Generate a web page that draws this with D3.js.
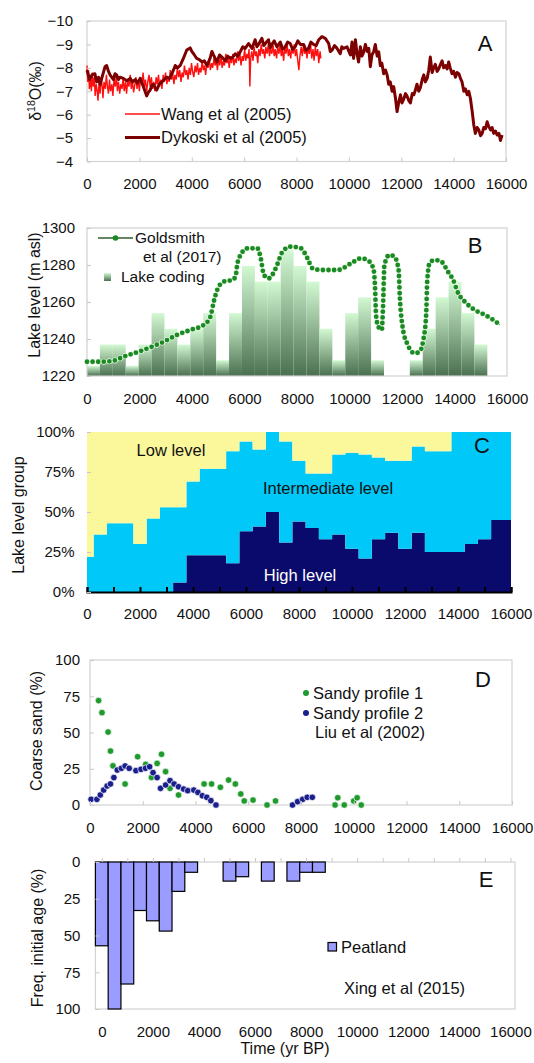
<!DOCTYPE html>
<html>
<head>
<meta charset="utf-8">
<script src="https://cdn.jsdelivr.net/npm/d3@7"></script>
<style>
    body { margin: 0; background: #fff; }
    text { font-family: "Liberation Sans", Arial, sans-serif; fill: #111; }
</style>
</head>
<body>
<svg id="fig" width="534" height="1063"></svg>
<script>
// ---------- data ----------
const timeTicks = [0, 2000, 4000, 6000, 8000, 10000, 12000, 14000, 16000];

// A: speleothem d18O, [yr BP, permil]
const wang = [[0,-8.1],[30,-7.4],[60,-7.9],[90,-7.1],[130,-7.5],[170,-7.0],[200,-7.8],[240,-7.2],[280,-7.6],[310,-6.8],[350,-7.3],[390,-7.0],[420,-6.6],[460,-7.4],[500,-6.9],[540,-7.6],[580,-7.2],[610,-6.7],[650,-7.4],[700,-7.1],[740,-7.7],[780,-7.2],[820,-6.9],[860,-7.5],[900,-7.0],[950,-7.3],[990,-6.8],[1030,-7.5],[1080,-7.2],[1120,-7.7],[1160,-7.0],[1200,-7.4],[1250,-6.9],[1290,-7.3],[1340,-7.1],[1380,-7.6],[1420,-7.0],[1470,-7.4],[1510,-6.9],[1560,-7.5],[1600,-7.2],[1650,-7.7],[1690,-7.1],[1740,-7.4],[1780,-6.95],[1830,-7.3],[1870,-7.6],[1910,-7.1],[1960,-7.5],[2000,-7.0],[2050,-7.6],[2100,-7.3],[2140,-7.8],[2190,-7.2],[2230,-7.5],[2280,-7.0],[2320,-7.4],[2370,-7.7],[2410,-7.2],[2460,-7.6],[2500,-7.1],[2550,-7.4],[2590,-7.0],[2640,-7.6],[2680,-7.3],[2730,-7.7],[2770,-7.2],[2820,-7.5],[2860,-7.1],[2910,-7.7],[2950,-7.4],[3000,-7.8],[3050,-7.3],[3090,-7.6],[3140,-7.4],[3180,-7.9],[3230,-7.5],[3270,-7.8],[3320,-7.3],[3360,-7.7],[3410,-7.5],[3450,-8.0],[3500,-7.6],[3540,-7.9],[3590,-7.4],[3630,-7.8],[3680,-7.6],[3720,-8.1],[3770,-7.7],[3810,-7.9],[3860,-7.5],[3900,-8.0],[3950,-7.7],[3990,-8.2],[4040,-7.8],[4080,-7.6],[4130,-8.1],[4170,-7.8],[4220,-8.2],[4260,-7.7],[4310,-8.0],[4350,-7.8],[4400,-8.3],[4440,-7.9],[4490,-8.1],[4530,-7.7],[4580,-8.2],[4620,-8.0],[4670,-8.4],[4710,-7.9],[4760,-8.2],[4800,-8.0],[4850,-8.4],[4890,-8.1],[4940,-8.3],[4980,-7.9],[5030,-8.4],[5070,-8.1],[5120,-8.5],[5160,-8.0],[5210,-8.3],[5250,-8.1],[5300,-8.6],[5340,-8.2],[5390,-8.4],[5430,-8.0],[5480,-8.5],[5520,-8.2],[5570,-8.6],[5610,-8.1],[5660,-8.4],[5700,-8.2],[5750,-8.7],[5790,-8.3],[5840,-8.6],[5880,-8.1],[5930,-8.5],[5970,-8.3],[6020,-8.8],[6060,-8.3],[6110,-8.6],[6150,-8.4],[6190,-8.8],[6220,-7.2],[6250,-8.4],[6290,-8.7],[6340,-8.3],[6380,-8.9],[6430,-8.5],[6470,-8.7],[6520,-8.2],[6560,-8.8],[6610,-8.5],[6650,-9.0],[6700,-8.6],[6740,-8.8],[6790,-8.4],[6830,-8.9],[6880,-8.6],[6920,-9.0],[6970,-8.5],[7010,-8.8],[7060,-8.6],[7100,-9.0],[7150,-8.5],[7190,-8.8],[7240,-8.4],[7280,-8.9],[7330,-8.6],[7370,-9.0],[7420,-8.5],[7460,-8.8],[7510,-8.3],[7550,-8.9],[7600,-8.6],[7640,-9.0],[7690,-8.5],[7730,-8.8],[7780,-8.4],[7820,-8.9],[7870,-8.6],[7910,-9.0],[7960,-8.5],[8000,-8.8],[8050,-8.3],[8090,-7.9],[8130,-8.5],[8180,-8.9],[8220,-8.5],[8270,-9.0],[8310,-8.6],[8360,-8.8],[8400,-8.4],[8450,-8.9],[8490,-8.6],[8540,-9.0],[8580,-8.4],[8630,-8.8],[8670,-8.3],[8720,-8.9],[8760,-8.5],[8810,-8.8],[8850,-8.2],[8900,-8.7],[8930,-8.4]];
const dykoski = [[0,-7.9],[100,-7.5],[190,-7.7],[300,-7.75],[370,-7.4],[440,-7.6],[500,-7.3],[600,-7.7],[690,-8.05],[750,-8.1],[820,-7.85],[880,-7.7],[1010,-7.5],[1070,-7.75],[1130,-7.7],[1200,-7.5],[1260,-7.6],[1390,-7.55],[1520,-7.45],[1650,-7.55],[1740,-7.4],[1840,-7.5],[1930,-7.35],[2030,-7.55],[2150,-7.2],[2280,-6.8],[2340,-6.95],[2410,-7.05],[2480,-7.25],[2540,-7.3],[2600,-7.15],[2660,-7.05],[2760,-7.3],[2860,-7.4],[2950,-7.5],[3050,-7.6],[3150,-7.55],[3240,-7.75],[3300,-7.9],[3370,-8.1],[3460,-8.0],[3560,-8.1],[3680,-8.4],[3810,-8.76],[3940,-8.85],[4000,-8.7],[4070,-8.6],[4190,-8.4],[4290,-8.35],[4390,-8.25],[4480,-8.3],[4580,-8.1],[4700,-8.4],[4770,-8.7],[4830,-8.55],[4960,-8.25],[5060,-8.55],[5150,-8.46],[5280,-8.3],[5370,-8.5],[5470,-8.4],[5560,-8.45],[5660,-8.6],[5750,-8.5],[5850,-8.68],[5950,-8.9],[6040,-8.83],[6170,-9.04],[6300,-8.83],[6420,-9.2],[6490,-8.9],[6550,-9.0],[6680,-9.26],[6750,-8.95],[6810,-9.04],[6930,-9.2],[7000,-8.85],[7060,-9.0],[7150,-9.15],[7250,-8.9],[7380,-9.1],[7470,-8.8],[7570,-8.9],[7660,-9.1],[7760,-9.04],[7850,-8.8],[7950,-8.9],[8050,-9.15],[8150,-9.0],[8270,-9.0],[8360,-8.75],[8460,-8.83],[8550,-9.1],[8650,-9.0],[8750,-8.95],[8850,-9.2],[8970,-9.33],[9100,-9.26],[9230,-9.04],[9290,-8.7],[9360,-8.76],[9450,-8.95],[9550,-8.83],[9670,-8.6],[9730,-8.9],[9800,-8.83],[9930,-8.9],[10000,-8.7],[10060,-8.55],[10120,-9.1],[10180,-8.4],[10250,-9.2],[10310,-8.6],[10370,-8.25],[10440,-8.9],[10500,-8.5],[10570,-8.68],[10630,-9.0],[10700,-8.7],[10760,-8.83],[10820,-8.05],[10880,-8.55],[10950,-8.7],[11010,-9.0],[11080,-8.5],[11140,-8.68],[11200,-8.1],[11260,-8.2],[11330,-7.75],[11400,-7.9],[11460,-7.7],[11520,-7.3],[11580,-7.4],[11650,-7.0],[11710,-7.2],[11780,-6.7],[11840,-6.13],[11900,-6.5],[11970,-6.85],[12030,-6.5],[12090,-6.65],[12160,-6.9],[12220,-6.8],[12290,-6.6],[12350,-6.5],[12420,-6.9],[12480,-6.85],[12540,-7.05],[12600,-7.3],[12670,-7.0],[12730,-7.15],[12800,-7.5],[12860,-7.7],[12920,-7.4],[12990,-7.55],[13050,-7.9],[13110,-8.46],[13180,-7.8],[13240,-8.0],[13300,-8.15],[13370,-7.85],[13430,-7.95],[13500,-8.15],[13560,-8.3],[13620,-8.0],[13690,-8.1],[13750,-7.95],[13810,-8.25],[13870,-8.0],[13940,-7.75],[14000,-7.85],[14070,-7.6],[14130,-7.8],[14200,-7.75],[14260,-7.55],[14320,-7.4],[14390,-7.0],[14450,-7.1],[14520,-6.85],[14580,-7.0],[14640,-6.7],[14710,-6.13],[14770,-5.56],[14830,-5.2],[14900,-5.45],[14960,-5.35],[15030,-5.1],[15090,-5.2],[15150,-5.45],[15220,-5.4],[15280,-5.7],[15340,-5.5],[15410,-5.35],[15470,-5.45],[15530,-5.2],[15600,-5.3],[15660,-5.13],[15730,-5.2],[15790,-4.9],[15850,-5.13]];
const d18oTicks = [-10, -9, -8, -7, -6, -5, -4];

// B: Goldsmith et al lake level curve and lake coding bars
const goldsmith = [[0,1227.7],[500,1227.7],[1000,1228.2],[1390,1230.4],[1960,1233.1],[2410,1235.5],[2920,1238.5],[3430,1242.2],[3940,1244.9],[4450,1247.6],[4700,1252],[4830,1260.2],[4960,1266.5],[5210,1271],[5530,1271.9],[5660,1273.7],[5720,1280],[5850,1285.4],[6110,1289],[6490,1289],[6620,1283.6],[6740,1274.6],[6930,1272.8],[7190,1278.2],[7450,1287.2],[7760,1289.9],[8150,1289],[8400,1283.6],[8590,1278.2],[8910,1277.3],[9550,1277.3],[10060,1280.9],[10440,1283.6],[10760,1281.8],[10920,1277.3],[10980,1265.6],[11010,1253],[11100,1246.6],[11230,1244.9],[11280,1258.4],[11330,1280],[11520,1285.4],[11710,1284.5],[11870,1277.3],[11920,1262],[12030,1245.8],[12220,1236.8],[12480,1232.3],[12670,1233.1],[12800,1238.5],[12920,1253],[12960,1271],[13050,1280.9],[13240,1282.7],[13500,1281.8],[13750,1276.4],[13950,1271.9],[14140,1264.7],[14390,1260.2],[14770,1255.7],[15160,1253],[15480,1250.3],[15730,1247.6]];
const lakeAges = d3.range(0, 15001, 500);
const lakeCoding = [1225.5,1237,1237,1225.5,1237,1254,1245.5,1237,1245.5,1254,1228.5,1254,1279.5,1271,1271,1288,1279.5,1271,1245.5,1228.5,1254,1262.5,1228.5,null,null,1228.5,1245.5,1262.5,1271,1254,1237];
const levelTicks = [1220, 1240, 1260, 1280, 1300];

// C: lake level groups (%), 500-yr steps
const groupAges = d3.range(0, 16001, 500);
const highLevel = [0,0,0,0,0,0,0,6,23,23,23,18,38,41,50,31,44,40,33,36,27,21,33,37,27,37,25,25,25,30,33,45,45];
const intermediateLevel = [22,36,43,43,30,46,53,47,46,54,54,70,56,48,50,63,38,34,41,50,60,65,51,45,55,54,63,63,75,70,67,55,55];
const lowLevel = [78,64,57,57,70,54,47,47,31,23,23,12,6,11,0,6,18,26,26,14,13,14,16,18,18,9,12,12,0,0,0,0,0];
const pctTicks = [0, 25, 50, 75, 100];

// D: coarse sand, [yr BP, %]
const sandy1 = [[325,72],[455,63.7],[686,50.3],[776,37.2],[870,27],[1330,14.5],[1807,33.3],[2110,28],[2330,19],[2545,28.7],[2712,35],[2867,23],[3034,11.5],[3356,6.9],[4326,14.5],[4610,14.5],[4943,12.2],[5254,17.2],[5511,14.5],[5716,7.6],[5848,2.8],[6182,3.4],[6712,0],[7034,2.8],[9291,0],[9394,5],[9640,0],[10000,2.8],[10129,5],[10284,0]];
const sandy2 = [[42,3.9],[261,3.9],[390,6.9],[519,10.3],[648,13.1],[776,14.5],[905,18.9],[1034,24.1],[1189,25.3],[1330,26.9],[1485,25.3],[1742,23.7],[1935,24.6],[2106,25.3],[2261,26.4],[2390,22.3],[2545,18.9],[2674,11.5],[2867,13.8],[3034,16.8],[3189,14.5],[3356,12.6],[3549,11],[3705,9.9],[3936,10.3],[4091,8.7],[4261,6.4],[4428,5.3],[4583,3],[4777,0],[7678,0],[7871,2.3],[8064,3.9],[8235,5.3],[8428,5.3]];
const sandTicks = [0, 25, 50, 75, 100];

// E: peatland initiation frequency (%)
const peatAges = d3.range(0, 8501, 500);
const peatFreq = [57,100,83,33,40,47,20,7,0,0,13,10,0,13,0,13,7,7];
const freqTicks = [0, 25, 50, 75, 100];

// ---------- helpers ----------
const FONT = "Liberation Sans, Arial, sans-serif";
const TICK_FS = 15;
const svg = d3.select("#fig");

function frame(x, y, color) {
    const [x0, x1] = x.range();
    const [y0, y1] = d3.extent(y.range());
    svg.append("rect")
        .attr("x", x0).attr("y", y0)
        .attr("width", x1 - x0).attr("height", y1 - y0)
        .attr("fill", "none")
        .attr("stroke", color || "#d3d3d3")
        .attr("stroke-width", 1.2);
}

function styleAxis(g, tickColor) {
    g.attr("font-family", FONT).attr("font-size", TICK_FS).attr("color", "#111");
    g.select(".domain").remove();
    g.selectAll(".tick line").attr("stroke", tickColor);
}

function bottomAxis(x, yPos, pad, tickColor, tickLen) {
    svg.append("g")
        .attr("transform", `translate(0,${yPos})`)
        .call(d3.axisBottom(x).tickValues(timeTicks).tickSize(-(tickLen || 4)).tickPadding(pad).tickFormat(d3.format("d")))
        .call(g => styleAxis(g, tickColor || "#c8c8c8"));
}

function leftAxis(y, xPos, ticks, pad, fmt) {
    svg.append("g")
        .attr("transform", `translate(${xPos},0)`)
        .call(d3.axisLeft(y).tickValues(ticks).tickSize(-4).tickPadding(pad).tickFormat(fmt || d3.format("d")))
        .call(g => styleAxis(g, "#c8c8c8"));
}

function yTitle(x, y, txt) {
    return svg.append("text")
        .attr("transform", `translate(${x},${y}) rotate(-90)`)
        .attr("text-anchor", "middle")
        .attr("font-size", 16)
        .text(txt);
}

function panelLetter(x, y, letter) {
    svg.append("text")
        .attr("x", x).attr("y", y)
        .attr("text-anchor", "middle")
        .attr("font-size", 22)
        .text(letter);
}

function label(x, y, txt, size) {
    return svg.append("text")
        .attr("x", x).attr("y", y)
        .attr("font-size", size || 16.5)
        .text(txt);
}

// ---------- A ----------
const xA = d3.scaleLinear().domain([0, 16000]).range([87, 506]);
const yA = d3.scaleLinear().domain([-10, -4]).range([21, 161.5]);
frame(xA, yA);

const lineA = d3.line().x(d => xA(d[0])).y(d => yA(d[1]));
svg.append("path").datum(wang)
    .attr("d", lineA).attr("fill", "none")
    .attr("stroke", "#ff1010").attr("stroke-width", 1.4);
svg.append("path").datum(dykoski)
    .attr("d", lineA).attr("fill", "none")
    .attr("stroke", "#7d0000").attr("stroke-width", 3)
    .attr("stroke-linejoin", "round");

bottomAxis(xA, yA(-4), 16.5);
leftAxis(yA, xA(0), d18oTicks, 14);

const tA = svg.append("text")
    .attr("transform", "translate(41,91) rotate(-90)")
    .attr("text-anchor", "middle")
    .attr("font-size", 16);
tA.append("tspan").text("δ");
tA.append("tspan").attr("dy", -6).attr("font-size", 10.5).text("18");
tA.append("tspan").attr("dy", 6).text("O(‰)");

// legend A
svg.append("line").attr("x1", 125).attr("x2", 160).attr("y1", 114).attr("y2", 114)
    .attr("stroke", "#ff1010").attr("stroke-width", 1.5);
label(161, 119.5, "Wang et al (2005)");
svg.append("line").attr("x1", 125).attr("x2", 160).attr("y1", 137.5).attr("y2", 137.5)
    .attr("stroke", "#7d0000").attr("stroke-width", 3);
label(161, 143, "Dykoski et al (2005)");
panelLetter(485, 51, "A");

// ---------- B ----------
const xB = d3.scaleLinear().domain([0, 16000]).range([87, 507]);
const yB = d3.scaleLinear().domain([1220, 1300]).range([376, 228]);
const bandB = d3.scaleBand().domain(lakeAges).range([xB(0), xB(15250)]);

const defs = svg.append("defs");
const grad = defs.append("linearGradient").attr("id", "lakeGrad")
    .attr("x1", 0).attr("y1", 0).attr("x2", 0).attr("y2", 1);
grad.append("stop").attr("offset", "0%").attr("stop-color", "#d3f9d3");
grad.append("stop").attr("offset", "100%").attr("stop-color", "#4b7050");

svg.append("g").selectAll("rect")
    .data(lakeAges.map((a, i) => ({ age: a, v: lakeCoding[i] })).filter(d => d.v !== null))
    .join("rect")
    .attr("x", d => bandB(d.age))
    .attr("width", bandB.bandwidth())
    .attr("y", d => yB(d.v))
    .attr("height", d => yB(1220) - yB(d.v))
    .attr("fill", "url(#lakeGrad)");

frame(xB, yB, "#d0d0d0");

// curve drawn as a thin line plus round-capped dashes that read as markers
const lineB = d3.line().x(d => xB(d[0])).y(d => yB(d[1])).curve(d3.curveMonotoneX);
svg.append("path").datum(goldsmith)
    .attr("d", lineB).attr("fill", "none")
    .attr("stroke", "#2f4f2f").attr("stroke-width", 0.9);
svg.append("path").datum(goldsmith)
    .attr("d", lineB).attr("fill", "none")
    .attr("stroke", "#e8f8e8").attr("stroke-width", 6)
    .attr("stroke-linecap", "round").attr("stroke-dasharray", "0 5.6");
svg.append("path").datum(goldsmith)
    .attr("d", lineB).attr("fill", "none")
    .attr("stroke", "#1b8a22").attr("stroke-width", 4.8)
    .attr("stroke-linecap", "round").attr("stroke-dasharray", "0 5.6");

bottomAxis(xB, yB(1220), 17, "none");
leftAxis(yB, xB(0), levelTicks, 12);
yTitle(40, 295, "Lake level (m asl)");

// legend B
svg.append("line").attr("x1", 98).attr("x2", 133).attr("y1", 238).attr("y2", 238)
    .attr("stroke", "#2f5f2f").attr("stroke-width", 1.5);
svg.append("circle").attr("cx", 115.5).attr("cy", 238).attr("r", 2.8).attr("fill", "#1b8a22");
label(135, 243, "Goldsmith", 15.5);
label(143, 262, "et al (2017)", 15.5);
svg.append("rect").attr("x", 104).attr("y", 273).attr("width", 7).attr("height", 8)
    .attr("fill", "url(#lakeGrad)");
label(121, 282, "Lake coding", 15.5);
panelLetter(475, 253, "B");

// ---------- C ----------
const xC = d3.scaleLinear().domain([0, 16000]).range([87, 511]);
const yC = d3.scaleLinear().domain([0, 100]).range([592, 432]);
const groupRows = groupAges.map((a, i) => ({
    age: a, high: highLevel[i], intermediate: intermediateLevel[i], low: lowLevel[i]
}));
const stackC = d3.stack().keys(["high", "intermediate", "low"])(groupRows);
const colorC = { high: "#0a0a6c", intermediate: "#00c8f8", low: "#fbf89c" };
const areaC = d3.area().curve(d3.curveStep)
    .x(d => xC(d.data.age))
    .y0(d => yC(d[0]))
    .y1(d => yC(Math.min(100, d[1])));
svg.append("g").selectAll("path")
    .data(stackC)
    .join("path")
    .attr("d", areaC)
    .attr("fill", d => colorC[d.key]);

// black base line with 1000-yr ticks
svg.append("g")
    .attr("transform", `translate(0,${yC(0)})`)
    .call(d3.axisBottom(xC).tickValues(d3.range(0, 16001, 1000)).tickSize(-5).tickFormat(""))
    .call(g => g.select(".domain").attr("stroke", "#000").attr("stroke-width", 2))
    .call(g => g.selectAll(".tick line").attr("stroke", "#000").attr("stroke-width", 2));
bottomAxis(xC, yC(0), 16, "none");
leftAxis(yC, xC(0), pctTicks, 12.5, d => d + "%");
yTitle(24, 515, "Lake level group");

label(171, 456, "Low level").attr("text-anchor", "middle");
label(328, 494, "Intermediate level").attr("text-anchor", "middle");
label(300, 581, "High level").attr("text-anchor", "middle").style("fill", "#fff");
panelLetter(482, 453, "C");

// ---------- D ----------
const xD = d3.scaleLinear().domain([0, 16000]).range([90, 512]);
const yD = d3.scaleLinear().domain([0, 100]).range([805, 660]);
frame(xD, yD);

svg.append("g").selectAll("circle")
    .data(sandy1)
    .join("circle")
    .attr("cx", d => xD(d[0])).attr("cy", d => yD(d[1]))
    .attr("r", 3.3).attr("fill", "#1f9a2c")
    .attr("stroke", "#fff").attr("stroke-width", 0.7);
svg.append("g").selectAll("circle")
    .data(sandy2)
    .join("circle")
    .attr("cx", d => xD(d[0])).attr("cy", d => yD(d[1]))
    .attr("r", 3.3).attr("fill", "#1a1f8c")
    .attr("stroke", "#fff").attr("stroke-width", 0.7);

bottomAxis(xD, yD(0), 17.5);
leftAxis(yD, xD(0), sandTicks, 10);
yTitle(42, 731, "Coarse sand (%)");

svg.append("circle").attr("cx", 306).attr("cy", 693).attr("r", 3).attr("fill", "#1f9a2c");
label(313, 698.5, "Sandy profile 1");
svg.append("circle").attr("cx", 306).attr("cy", 713).attr("r", 3).attr("fill", "#1a1f8c");
label(313, 718.5, "Sandy profile 2");
label(315, 737.5, "Liu et al (2002)");
panelLetter(483, 687, "D");

// ---------- E ----------
const xE = d3.scaleLinear().domain([0, 16000]).range([101.8, 510.4]);
const yE = d3.scaleLinear().domain([0, 100]).range([862, 1009]);
const frameX = d3.scaleLinear().range([xE(-250), 515]);
frame(frameX, yE);

svg.append("g").selectAll("rect")
    .data(peatAges.map((a, i) => ({ age: a, v: peatFreq[i] })).filter(d => d.v > 0))
    .join("rect")
    .attr("x", d => xE(d.age - 250))
    .attr("width", xE(500) - xE(0))
    .attr("y", yE(0))
    .attr("height", d => yE(d.v) - yE(0))
    .attr("fill", "#9a9cff")
    .attr("stroke", "#000").attr("stroke-width", 1.2);

// small ticks on the top (zero) line
svg.append("g")
    .attr("transform", `translate(0,${yE(0)})`)
    .call(d3.axisTop(xE).tickValues(d3.range(0, 16001, 1000)).tickSize(4).tickFormat(""))
    .call(g => styleAxis(g, "#c8c8c8"));

svg.append("g")
    .attr("transform", `translate(0,${yE(100)})`)
    .call(d3.axisBottom(xE).tickValues(timeTicks).tickSize(0).tickPadding(17.5).tickFormat(d3.format("d")))
    .call(g => styleAxis(g, "none"));
leftAxis(yE, frameX(0), freqTicks, 15);
yTitle(43, 938, "Freq. initial age (%)");

svg.append("rect").attr("x", 328).attr("y", 942.5).attr("width", 8.5).attr("height", 8.5)
    .attr("fill", "#9a9cff").attr("stroke", "#000").attr("stroke-width", 1.2);
label(341, 952.5, "Peatland");
label(344, 993.5, "Xing et al (2015)");
panelLetter(486, 887, "E");

svg.append("text")
    .attr("x", 285).attr("y", 1054)
    .attr("text-anchor", "middle")
    .attr("font-size", 16)
    .text("Time (yr BP)");
</script>
</body>
</html>
